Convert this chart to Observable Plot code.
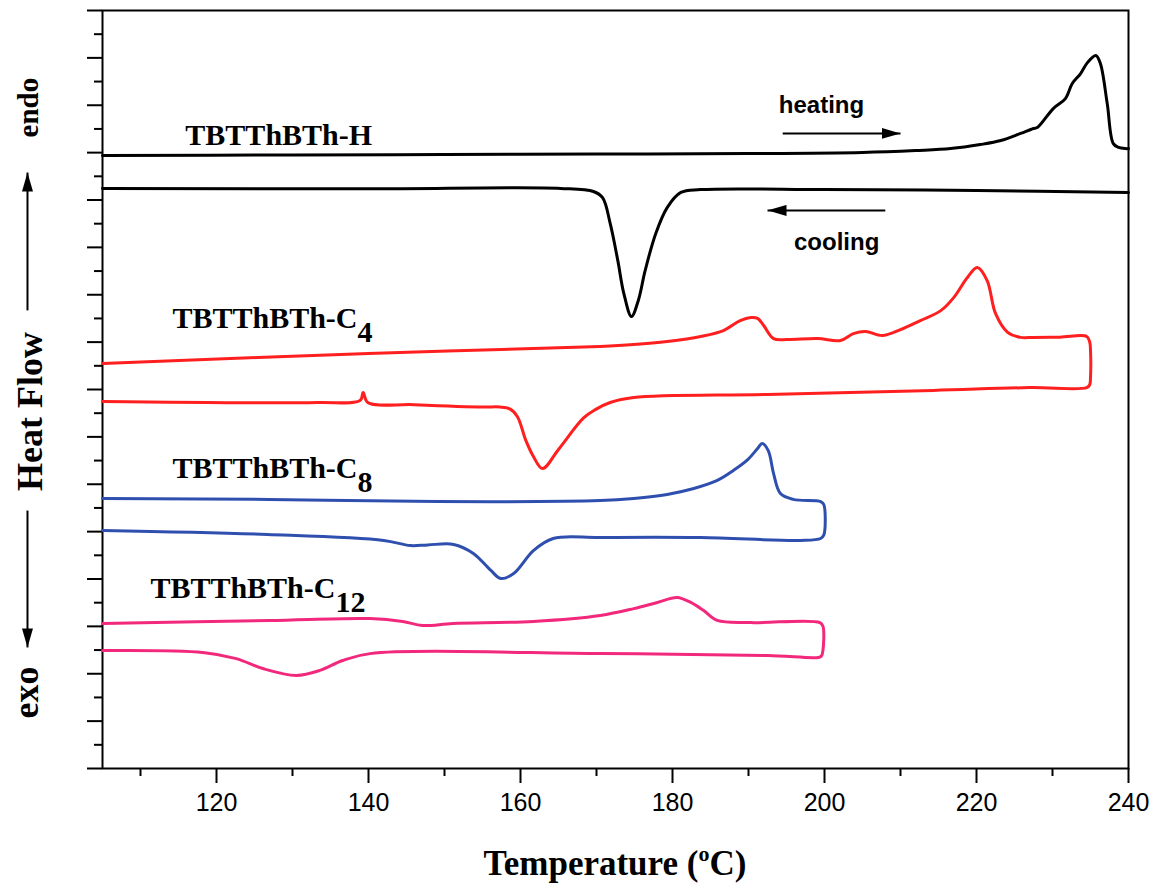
<!DOCTYPE html>
<html>
<head>
<meta charset="utf-8">
<script src="https://cdn.jsdelivr.net/npm/d3@7"></script>
<script src="https://cdn.jsdelivr.net/npm/@observablehq/plot@0.6"></script>
<style>
  html, body { margin: 0; padding: 0; background: #fff; }
  #chart svg { display: block; }
</style>
</head>
<body>
<div id="chart"></div>
<script>
// ---- Data (temperature °C, heat flow in arbitrary units) ----
const xMajorTicks = [120, 140, 160, 180, 200, 220, 240];
const xMinorTicks = [110, 130, 150, 170, 190, 210, 230];
const yMajorTicks = [0, 2, 4, 6, 8, 10, 12, 14, 16, 18, 20, 22, 24, 26, 28, 30, 32];
const yMinorTicks = [1, 3, 5, 7, 9, 11, 13, 15, 17, 19, 21, 23, 25, 27, 29, 31];

// TBTThBTh-H heating and cooling
const hHeat = [[105,25.88],[130,25.90],[150,25.92],[170,25.94],[190,25.96],[205,26.01],[212,26.09],[216.6,26.17],[220.5,26.34],[223.2,26.51],[225.8,26.81],[227.5,27.02],[228.0,27.06],[230.1,27.86],[231.7,28.28],[232.6,28.92],[233.7,29.34],[234.6,29.80],[235.7,30.10],[236.3,29.76],[237.2,28.07],[238.0,26.38],[238.7,26.22],[239.6,26.17],[240,26.17]];
const hCool = [[105,24.49],[140,24.47],[165.3,24.49],[169.6,24.36],[170.8,24.10],[171.8,23.01],[172.8,21.45],[173.6,20.05],[174.6,19.08],[175.5,19.76],[176.4,21.02],[177.8,22.59],[179.3,23.68],[181.1,24.32],[183.7,24.44],[200,24.44],[220,24.40],[240,24.32]];

// TBTThBTh-C4 heating then cooling (closed loop at 235 °C)
const c4Loop = [[105,17.10],[140,17.52],[170.5,17.82],[174.9,17.90],[179.3,18.03],[183.7,18.24],[186.7,18.49],[188.9,18.91],[190.3,19.04],[191.2,19.00],[192.0,18.70],[193.3,18.15],[195.1,18.11],[199.1,18.15],[202.1,18.07],[203.8,18.36],[205.4,18.45],[207.6,18.28],[210.0,18.53],[212.6,18.91],[215.3,19.33],[217.0,19.88],[218.8,20.73],[220.1,21.15],[221.4,20.60],[222.5,19.21],[224.1,18.41],[225.8,18.20],[227.5,18.20],[231,18.21],[234.5,18.24],[234.9,18.0],[235.0,17.65],[235.0,16.51],[234.9,16.2],[234.5,16.08],[227,16.08],[214.3,15.96],[192.5,15.79],[174.9,15.66],[171.8,15.45],[169.9,15.16],[168.3,14.80],[165.0,13.47],[162.9,12.66],[161.7,13.17],[160.7,13.85],[159.6,14.85],[158.6,15.18],[157.3,15.26],[155.1,15.26],[146,15.36],[139.9,15.45],[139.3,15.87],[138.9,15.54],[133.3,15.45],[105,15.49]];

// TBTThBTh-C8 heating then cooling (closed loop at 200 °C)
const c8Loop = [[105,11.40],[127,11.36],[149,11.27],[170.5,11.31],[174.9,11.40],[179.3,11.57],[182.8,11.82],[185.9,12.16],[188.0,12.58],[189.9,13.04],[191.2,13.51],[191.8,13.72],[192.6,13.42],[193.3,12.45],[194.2,11.61],[195.9,11.36],[199.5,11.27],[199.9,11.15],[200.1,10.47],[199.9,9.85],[199.5,9.71],[196.8,9.63],[183.7,9.75],[170.5,9.75],[164.3,9.71],[161.7,9.20],[159.1,8.23],[157.4,8.02],[156.1,8.36],[153.8,9.08],[151.2,9.46],[147.8,9.44],[145.5,9.41],[142.0,9.63],[126.7,9.88],[105,10.05]];

// TBTThBTh-C12 heating then cooling (closed loop at 200 °C)
const c12Loop = [[105,6.12],[127,6.25],[140.2,6.33],[144.5,6.21],[147.1,6.04],[151.1,6.12],[161.7,6.21],[170.5,6.46],[174.9,6.75],[178.0,7.01],[180.6,7.22],[182.4,7.01],[184.1,6.67],[185.9,6.25],[190.3,6.16],[199.4,6.16],[199.8,6.0],[199.8,5.0],[199.6,4.75],[199.2,4.69],[192.5,4.77],[170.5,4.85],[140.2,4.85],[136.6,4.56],[133.6,4.14],[130.5,3.93],[126.1,4.22],[122.6,4.64],[118.2,4.90],[105,4.98]];

// Curve labels ("_" marks the subscript)
const labelTexts = ["TBTThBTh-H", "TBTThBTh-C_4", "TBTThBTh-C_8", "TBTThBTh-C_12"];
const labelX = [115.9, 114.2, 114.2, 111.3];
const labelY = [26.72, 19.00, 12.66, 7.60];

// Heating / cooling annotations
const noteTexts = ["heating", "cooling"];
const noteX = [199.6, 201.6];
const noteY = [27.99, 22.21];
const arrowX1 = [194.5, 208.0];
const arrowX2 = [210.0, 192.5];
const arrowY = [26.81, 23.56];

// Y-axis title pieces (endo / Heat Flow / exo) with arrows
const yTitleTexts = ["endo", "Heat Flow", "exo"];
const yTitleSizes = [29, 36, 36];
const yTitleY = [27.90, 15.07, 3.21];
const yTitleX = [95.26, 95.5, 95.0];
const yArrowX = 95.13;
const yArrowFrom = [19.34, 10.89];
const yArrowTo = [25.16, 5.11];

// ---- Build tables ----
const pts = a => a.map(([t, v]) => ({t, v}));
const labels = labelTexts.map((s, i) => ({s, x: labelX[i], y: labelY[i]}));
const notes = noteTexts.map((s, i) => ({s, x: noteX[i], y: noteY[i]}));
const arrows = [
  ...arrowX1.map((x1, i) => ({x1, x2: arrowX2[i], y1: arrowY[i], y2: arrowY[i]})),
  ...yArrowFrom.map((y1, i) => ({x1: yArrowX, x2: yArrowX, y1, y2: yArrowTo[i]}))
];
const yTitles = yTitleTexts.map((s, i) => ({s, size: yTitleSizes[i], y: yTitleY[i], x: yTitleX[i]}));

const serif = "'Liberation Serif', 'Times New Roman', serif";
const sans = "'Liberation Sans', Arial, sans-serif";
const lineOpts = {x: "t", y: "v", strokeWidth: 3, curve: "catmull-rom", strokeLinejoin: "round"};

const chart = Plot.plot({
  width: 1167,
  height: 896,
  marginLeft: 102,
  marginRight: 39,
  marginTop: 10,
  marginBottom: 128,
  x: {domain: [105, 240], label: null},
  y: {domain: [0, 32], label: null},
  style: {fontFamily: sans, fontSize: "25px", color: "black", background: "white", overflow: "visible"},
  marks: [
    Plot.axisY({ticks: yMinorTicks, tickSize: 8, tickFormat: () => "", strokeWidth: 2, label: null}),
    Plot.axisY({ticks: yMajorTicks, tickSize: 15, tickFormat: () => "", strokeWidth: 2, label: null}),
    Plot.axisX({ticks: xMinorTicks, tickSize: 8, tickFormat: () => "", strokeWidth: 2, label: null}),
    Plot.axisX({ticks: xMajorTicks, tickSize: 15, tickPadding: 10, fontSize: 25, strokeWidth: 2, label: null}),
    Plot.frame({stroke: "black", strokeWidth: 2}),
    Plot.line(pts(hHeat), {...lineOpts, stroke: "#000000"}),
    Plot.line(pts(hCool), {...lineOpts, stroke: "#000000"}),
    Plot.line(pts(c4Loop), {...lineOpts, stroke: "#ff1f1f"}),
    Plot.line(pts(c8Loop), {...lineOpts, stroke: "#2f4fae"}),
    Plot.line(pts(c12Loop), {...lineOpts, stroke: "#f2287c"}),
    Plot.text(labels, {x: "x", y: "y", text: "s", textAnchor: "start", fontFamily: serif, fontWeight: "bold", fontSize: 30, fill: "black", className: "curvelabels"}),
    Plot.text(notes, {x: "x", y: "y", text: "s", textAnchor: "middle", fontFamily: sans, fontWeight: "bold", fontSize: 24, fill: "black"}),
    Plot.link(arrows, {x1: "x1", y1: "y1", x2: "x2", y2: "y2", stroke: "black", strokeWidth: 2, className: "arrowlinks"}),
    Plot.text(yTitles, {x: "x", y: "y", text: "s", rotate: -90, fontSize: "size", fontFamily: serif, fontWeight: "bold", fill: "black"})
  ]
});

document.getElementById("chart").appendChild(chart);

// ---- Post-processing: subscripts, filled arrowheads, x-axis title with superscript ----
const svg = d3.select(chart);
svg.selectAll("text").filter(function () {
  return this.childElementCount === 0 && this.textContent.includes("_");
}).each(function () {
  const parts = this.textContent.split("_");
  const t = d3.select(this);
  t.text(parts[0]);
  t.append("tspan").attr("dy", 14).text(parts[1]);
});

const defs = svg.insert("defs", ":first-child");
defs.append("marker")
  .attr("id", "tri")
  .attr("viewBox", "0 0 19 11")
  .attr("refX", 19).attr("refY", 5.5)
  .attr("markerUnits", "userSpaceOnUse")
  .attr("markerWidth", 19).attr("markerHeight", 11)
  .attr("orient", "auto")
  .append("path").attr("d", "M0,0L19,5.5L0,11Z").attr("fill", "black");
svg.selectAll('g.arrowlinks path, g[aria-label="link"] path').attr("marker-end", "url(#tri)");

const xt = svg.append("text")
  .attr("x", 615).attr("y", 875)
  .attr("text-anchor", "middle")
  .attr("font-family", serif).attr("font-weight", "bold").attr("font-size", 35)
  .attr("fill", "black");
xt.append("tspan").text("Temperature (");
xt.append("tspan").attr("dy", -14).attr("font-size", 22).text("o");
xt.append("tspan").attr("dy", 14).text("C)");
</script>
</body>
</html>
